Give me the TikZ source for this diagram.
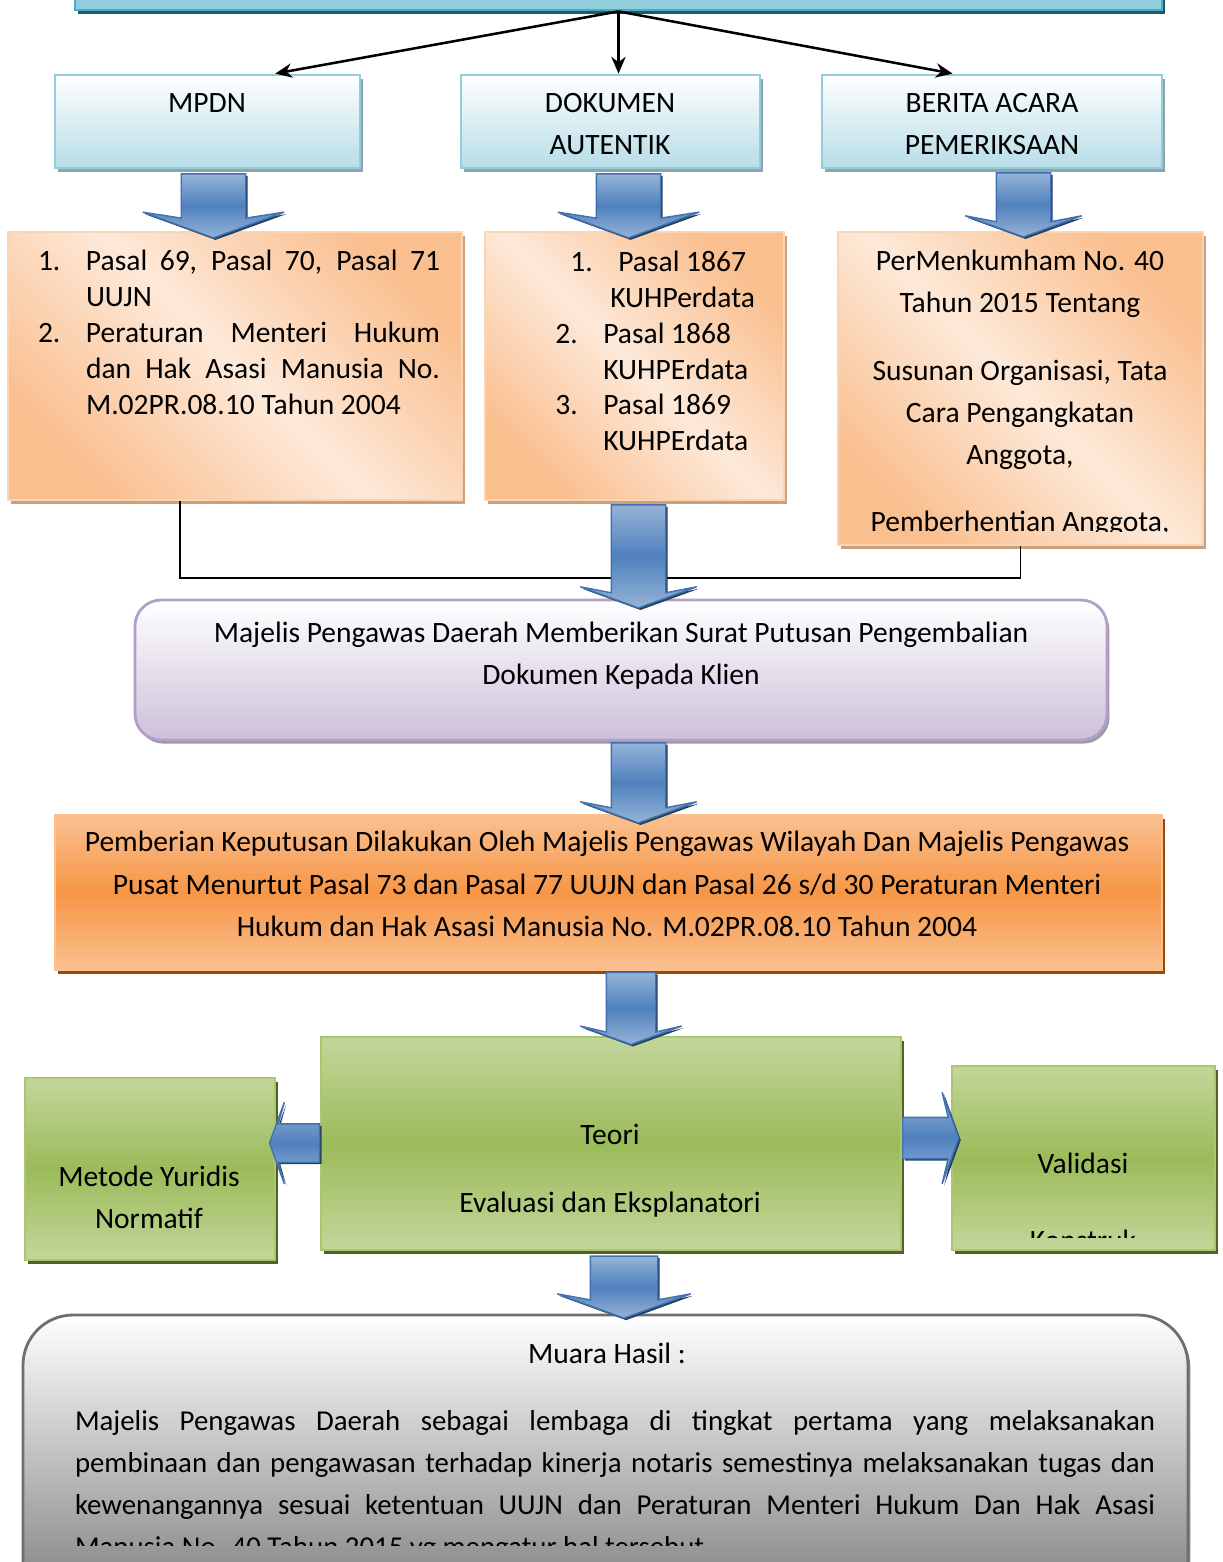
\documentclass[tikz,border=0pt]{standalone}
\usepackage{fontspec}
\setmainfont{Carlito}
\usetikzlibrary{arrows.meta,shapes.arrows,shadows,calc}

\newcommand{\pxu}{0.025cm}
\newcommand{\numbox}[1]{\makebox[1.2cm][l]{#1}}
\newcommand{\listfont}{\fontsize{21}{25.5}\selectfont}

\definecolor{topfill}{RGB}{146,205,220}
\definecolor{topline}{RGB}{75,172,198}
\definecolor{topshadow}{RGB}{33,89,104}
\definecolor{headfill}{RGB}{183,221,232}
\definecolor{headline}{RGB}{146,205,220}
\definecolor{headshadow}{RGB}{140,165,170}
\definecolor{peachlight}{RGB}{253,233,217}
\definecolor{peach}{RGB}{250,191,143}
\definecolor{peachline}{RGB}{251,212,180}
\definecolor{peachshadow}{RGB}{205,160,125}
\definecolor{lilac}{RGB}{204,192,218}
\definecolor{lilacline}{RGB}{178,161,199}
\definecolor{lilacshadow}{RGB}{160,150,170}
\definecolor{orangemid}{RGB}{247,150,70}
\definecolor{orangelight}{RGB}{250,192,144}
\definecolor{orangeshadow}{RGB}{152,72,7}
\definecolor{greenlight}{RGB}{195,214,155}
\definecolor{greenmid}{RGB}{155,187,89}
\definecolor{greenline}{RGB}{170,198,110}
\definecolor{greenshadow}{RGB}{79,98,40}
\definecolor{arrowlight}{RGB}{149,179,215}
\definecolor{arrowdark}{RGB}{79,129,189}
\definecolor{arrowline}{RGB}{65,113,175}
\definecolor{arrowshadow}{RGB}{37,64,97}
\definecolor{greybottom}{RGB}{120,120,120}
\definecolor{greyline}{RGB}{110,110,110}

\tikzset{
  txt/.style={inner sep=0pt},
  topbox/.style={draw=topline, line width=2pt, fill=topfill,
    drop shadow={shadow xshift=0.08cm, shadow yshift=-0.09cm, fill=topshadow, opacity=1}},
  headbox/.style={draw=headline, line width=2pt, top color=white, bottom color=headfill,
    drop shadow={shadow xshift=0.08cm, shadow yshift=-0.09cm, fill=headshadow, opacity=1}},
  lawbox/.style={draw=peachline, line width=2pt, left color=peach, right color=peach,
    middle color=peachlight, shading angle=135,
    drop shadow={shadow xshift=0.08cm, shadow yshift=-0.09cm, fill=peachshadow, opacity=1}},
  mpdbox/.style={draw=lilacline, line width=2pt, rounded corners=0.65cm, top color=white,
    bottom color=lilac,
    drop shadow={shadow xshift=0.06cm, shadow yshift=-0.09cm, fill=lilacshadow, opacity=1}},
  mpwbox/.style={draw=orangelight, line width=2pt, top color=orangelight, bottom color=orangelight,
    middle color=orangemid,
    drop shadow={shadow xshift=0.08cm, shadow yshift=-0.09cm, fill=orangeshadow, opacity=1}},
  greenbox/.style={draw=greenline, line width=2pt, top color=greenlight, bottom color=greenlight,
    middle color=greenmid,
    drop shadow={shadow xshift=0.08cm, shadow yshift=-0.1cm, fill=greenshadow, opacity=1}},
  resultbox/.style={draw=greyline, line width=2pt, rounded corners=1.25cm, top color=white,
    bottom color=greybottom,
    drop shadow={shadow xshift=0.06cm, shadow yshift=-0.08cm, fill=black!45, opacity=1}},
  blkarrow/.style={single arrow, draw=arrowline, line width=1pt, inner xsep=0pt,
    single arrow tip angle=140, single arrow head indent=0.15cm,
    top color=arrowlight, bottom color=arrowlight, middle color=arrowdark,
    drop shadow={shadow xshift=0.05cm, shadow yshift=-0.05cm, fill=arrowshadow, opacity=1}},
  thin/.style={draw=black, line width=1.8pt, -{Stealth[length=0.42cm, width=0.36cm]}},
  elbow/.style={draw=black, line width=1.3pt}
}

\begin{document}
\begin{tikzpicture}[x=0.025cm, y=-0.025cm, font=\fontsize{21}{30}\selectfont]
  \useasboundingbox (0,0) rectangle (1222,1562);

  % top row
  \node[topbox, minimum width=1087*\pxu, minimum height=70*\pxu] (top) at (618.5,-25) {};
  \node[headbox, minimum width=305*\pxu, minimum height=93*\pxu] (mpdn) at (207.5,121.5) {};
  \node[headbox, minimum width=299*\pxu, minimum height=93*\pxu] (dok) at (610.5,121.5) {};
  \node[headbox, minimum width=340*\pxu, minimum height=93*\pxu] (bap) at (992,121.5) {};
  \node[txt] (mpdntxt) at (207,103) {MPDN};
  \node[txt, align=center] (doktxt) at (610,124) {DOKUMEN\\AUTENTIK};
  \node[txt, align=center] (baptxt) at (992,124) {BERITA ACARA\\PEMERIKSAAN};

  \draw[thin] (top.south) -- ($(mpdn.north)!0.44!(mpdn.north east)$);
  \draw[thin] (top.south) -- (top.south |- dok.north);
  \draw[thin] (top.south) -- ($(bap.north)!0.23!(bap.north west)$);

  % dasar hukum
  \node[lawbox, minimum width=454*\pxu, minimum height=268*\pxu] (pasalA) at (235,366) {};
  \node[lawbox, minimum width=299*\pxu, minimum height=268*\pxu] (pasalB) at (634.5,366) {};
  \node[lawbox, minimum width=365*\pxu, minimum height=313*\pxu] (pasalC) at (1020.5,388.5) {};

  \node[txt, text width=402*\pxu, align=justify, font=\listfont] (pasalAtxt) at (239,332.5) {%
    \noindent\hangindent=1.2cm\hangafter=1\numbox{1.}Pasal 69, Pasal 70, Pasal 71 \linebreak UUJN\par
    \noindent\hangindent=1.2cm\hangafter=1\numbox{2.}Peraturan Menteri Hukum \linebreak dan Hak Asasi Manusia No. \linebreak M.02PR.08.10 Tahun 2004\par};
  \node[txt, align=left, font=\listfont, anchor=west] (pasalBtxt) at (555,351) {%
    \hspace*{0.375cm}\numbox{1.}Pasal 1867\\
    \hspace*{1.375cm}KUHPerdata\\
    \numbox{2.}Pasal 1868\\
    \hspace*{1.2cm}KUHPErdata\\
    \numbox{3.}Pasal 1869\\
    \hspace*{1.2cm}KUHPErdata};
  \begin{scope}
    \clip (838,232) rectangle (1203,531);
    \node[txt, align=center] (pasalCtxt) at (1020,393.5) {PerMenkumham No. 40\\Tahun 2015 Tentang\\[0.625cm]
      Susunan Organisasi, Tata\\Cara Pengangkatan\\Anggota,\\[0.625cm]Pemberhentian Anggota,};
  \end{scope}

  \node[blkarrow, rotate=-90, minimum height=1.6cm, minimum width=3.5cm, inner ysep=0.7875cm, single arrow head extend=0.9625cm] (arrA) at (213.5,200) {};
  \node[blkarrow, rotate=-90, minimum height=1.6cm, minimum width=3.5cm, inner ysep=0.7875cm, single arrow head extend=0.9625cm] (arrB) at (628.5,200) {};
  \node[blkarrow, rotate=-90, minimum height=1.6cm, minimum width=2.875cm, inner ysep=0.6625cm, single arrow head extend=0.775cm] (arrC) at (1023.5,200) {};

  % gabungan ke MPD
  \draw[elbow] ([xshift=-55*\pxu]pasalA.south) -- ++(0,77) -| (pasalC.south);
  \node[mpdbox, minimum width=972*\pxu, minimum height=140*\pxu] (mpd) at (621,670) {};
  \node[txt, align=center] (mpdtxt) at (621,656) {Majelis Pengawas Daerah Memberikan Surat Putusan Pengembalian\\Dokumen Kepada Klien};
  \node[blkarrow, rotate=-90, minimum height=2.575cm, minimum width=2.875cm, inner ysep=0.6625cm, single arrow head extend=0.775cm] (arrD) at (638.5,551.5) {};

  % MPW dan MPP
  \node[mpwbox, minimum width=1107*\pxu, minimum height=155*\pxu] (mpw) at (608.5,892.5) {};
  \node[txt, align=center] (mpwtxt) at (607,884) {Pemberian Keputusan Dilakukan Oleh Majelis Pengawas Wilayah Dan Majelis Pengawas\\
    Pusat Menurtut Pasal 73 dan Pasal 77 UUJN dan Pasal 26 s/d 30 Peraturan Menteri\\
    Hukum dan Hak Asasi Manusia No. M.02PR.08.10 Tahun 2004};
  \node[blkarrow, rotate=-90, minimum height=2cm, minimum width=2.875cm, inner ysep=0.6625cm, single arrow head extend=0.775cm] (arrE) at (638.5,778) {};

  % teori dan metode
  \node[greenbox, minimum width=580*\pxu, minimum height=213*\pxu] (teori) at (611,1143.5) {};
  \node[greenbox, minimum width=250*\pxu, minimum height=182*\pxu] (metode) at (150,1169) {};
  \node[greenbox, minimum width=263*\pxu, minimum height=184*\pxu] (valid) at (1083.5,1158) {};
  \node[txt, align=center] (teoritxt) at (610,1171) {Teori\\[0.65cm]Evaluasi dan Eksplanatori};
  \node[txt, align=center] (metodetxt) at (149,1197) {Metode Yuridis\\Normatif};
  \begin{scope}
    \clip (952,1066) rectangle (1215,1237);
    \node[txt, align=center] (validtxt) at (1083,1201.5) {Validasi\\[0.875cm]Konstruk};
  \end{scope}
  \node[blkarrow, rotate=-90, minimum height=1.8cm, minimum width=2.5cm, inner ysep=0.6cm, single arrow head extend=0.65cm] (arrF) at (631,1004) {};
  \node[blkarrow, rotate=180, minimum height=1.25cm, minimum width=2cm, inner ysep=0.4625cm, single arrow head extend=0.5375cm] (arrG) at (298,1143) {};
  \node[blkarrow, minimum height=1.4cm, minimum width=2.25cm, inner ysep=0.5cm, single arrow head extend=0.625cm] (arrH) at (927,1138) {};

  % muara hasil
  \node[resultbox, minimum width=1165*\pxu, minimum height=305*\pxu] (muara) at (605.5,1467.5) {};
  \begin{scope}
    \clip (23,1315) rectangle (1188,1545);
    \node[txt, text width=1080*\pxu, align=justify] (muaratxt) at (615,1452.5) {%
      \hbox to \hsize{\hss Muara Hasil :\hss\kern0.4cm}\par\vspace{0.6cm}
      \fontsize{20.5}{30}\selectfont\spaceskip=0.226em plus 0.3em minus 0.1em
      \noindent Majelis Pengawas Daerah sebagai lembaga di tingkat pertama yang melaksanakan \linebreak
      pembinaan dan pengawasan terhadap kinerja notaris semestinya melaksanakan tugas dan \linebreak
      kewenangannya sesuai ketentuan UUJN dan Peraturan Menteri Hukum Dan Hak Asasi \linebreak
      Manusia No. 40 Tahun 2015 yg mengatur hal tersebut\par};
  \end{scope}
  \node[blkarrow, rotate=-90, minimum height=1.55cm, minimum width=3.3cm, inner ysep=0.825cm, single arrow head extend=0.825cm] (arrI) at (624,1281) {};
\end{tikzpicture}
\end{document}
